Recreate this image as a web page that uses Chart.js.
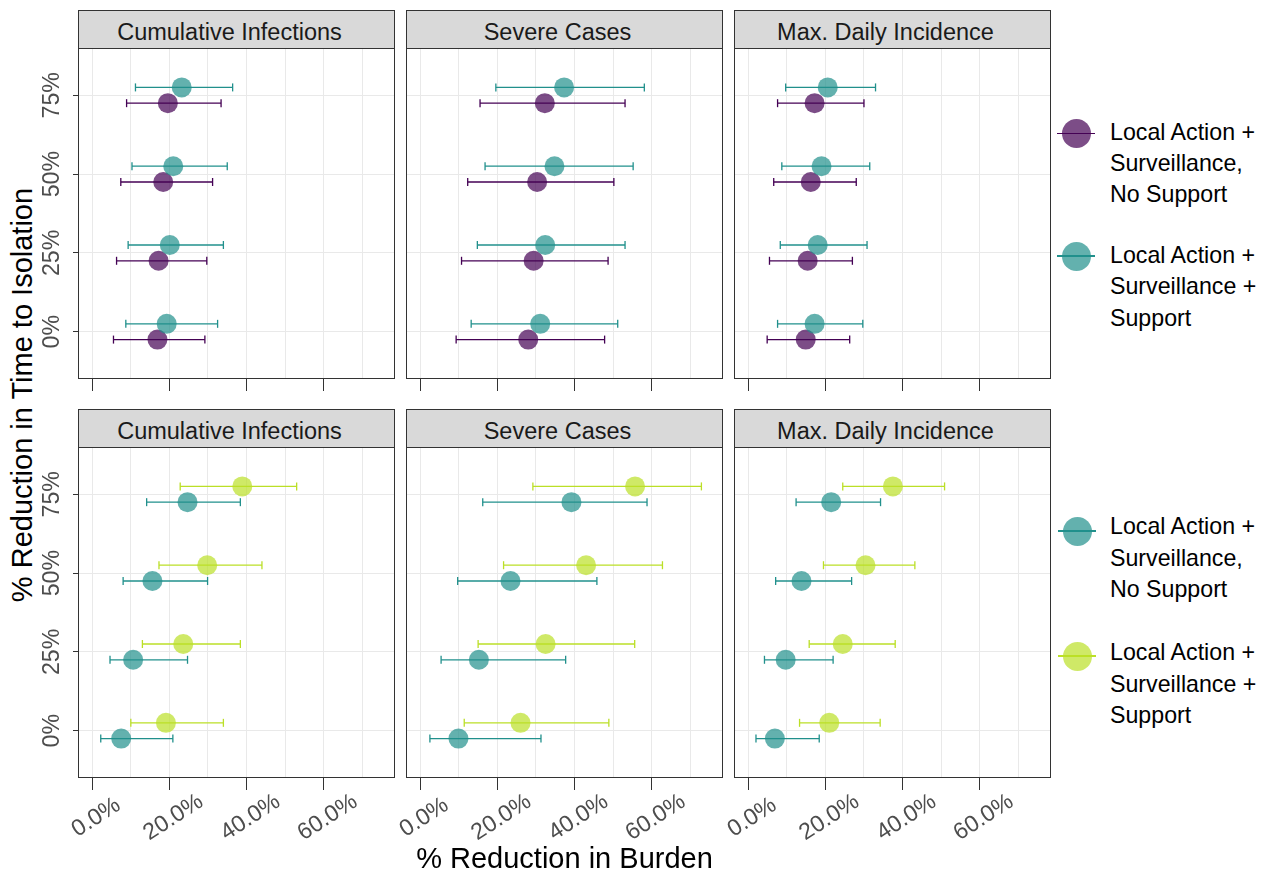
<!DOCTYPE html>
<html>
<head>
<meta charset="utf-8">
<script src="https://cdn.jsdelivr.net/npm/chart.js@4.4.1/dist/chart.umd.min.js"></script>
<style>
  html, body { margin: 0; padding: 0; background: #ffffff; }
  body { position: relative; width: 1288px; height: 873px; overflow: hidden;
         font-family: "Liberation Sans", Arial, Helvetica, sans-serif; }
  canvas { position: absolute; }
  .strip { position: absolute; box-sizing: border-box; border: 1px solid #333333;
           background: #d9d9d9; color: #1a1a1a; font-size: 23.5px; line-height: 43px;
           text-align: center; white-space: nowrap; padding-right: 14px; }
  .frame { position: absolute; box-sizing: border-box; border: 1px solid #333333; pointer-events: none; }
  .title { position: absolute; font-size: 29px; color: #000000; white-space: nowrap; line-height: 29px; }
  .keyline { position: absolute; height: 1.5px; }
  .keydot { position: absolute; border-radius: 50%; }
  .keytext { position: absolute; font-size: 23.2px; line-height: 31.3px; color: #000000; white-space: nowrap; }
</style>
</head>
<body>
<script>
// ---- categories, ticks and labels ----
const isolationLevels = ['0%', '25%', '50%', '75%'];
const xGridValues = [0, 10, 20, 30, 40, 50, 60, 70];
const xTickValues = [0, 20, 40, 60];
const panelTitles = ['Cumulative Infections', 'Severe Cases', 'Max. Daily Incidence'];
const legendLabels = ['Local Action +\nSurveillance,\nNo Support', 'Local Action +\nSurveillance +\nSupport'];

// ---- % reduction in burden: [estimate, lower, upper] per isolation level ----
// upper row
const topCumNoSupport   = [[16.9, 5.5, 29.2], [17.2, 6.3, 29.7], [18.4, 7.4, 31.2], [19.6, 8.9, 33.4]];
const topCumSupport     = [[19.3, 8.7, 32.5], [20.1, 9.3, 34.0], [21.0, 10.3, 35.0], [23.2, 11.2, 36.4]];
const topSevNoSupport   = [[28.0, 9.3, 47.8], [29.4, 10.7, 48.7], [30.3, 12.3, 50.2], [32.3, 15.5, 53.1]];
const topSevSupport     = [[31.1, 13.2, 51.2], [32.4, 14.8, 53.1], [34.8, 16.8, 55.2], [37.3, 19.6, 58.1]];
const topMaxNoSupport   = [[14.9, 4.9, 26.3], [15.4, 5.5, 27.0], [16.2, 6.6, 28.0], [17.2, 7.6, 30.0]];
const topMaxSupport     = [[17.2, 7.6, 29.7], [18.0, 8.3, 30.8], [19.0, 8.7, 31.5], [20.6, 9.7, 33.0]];
// lower row
const lowCumNoSupport   = [[7.5, 2.2, 20.9], [10.6, 4.6, 24.7], [15.6, 8.0, 29.9], [24.7, 14.1, 38.4]];
const lowCumSupport     = [[19.1, 10.0, 34.0], [23.6, 13.0, 38.4], [29.8, 17.3, 44.0], [38.9, 22.8, 53.0]];
const lowSevNoSupport   = [[9.9, 2.5, 31.3], [15.2, 5.4, 37.7], [23.4, 9.7, 45.8], [39.2, 16.2, 58.8]];
const lowSevSupport     = [[26.0, 11.4, 48.9], [32.5, 15.0, 55.6], [43.0, 21.6, 62.8], [55.7, 29.2, 72.9]];
const lowMaxNoSupport   = [[6.9, 2.0, 18.4], [9.7, 4.2, 22.0], [13.8, 7.1, 26.8], [21.5, 12.4, 34.3]];
const lowMaxSupport     = [[21.0, 13.3, 34.2], [24.5, 15.8, 38.1], [30.4, 19.5, 43.2], [37.5, 24.5, 50.9]];

// ---- palette ----
const purple = '#440154';
const teal = '#21908C';
const lime = '#BBDF27';

// ---- layout ----
const COL_LEFT = [78, 406, 734];
const ROW_TOP = [48, 447];
const PANEL_W = 317;
const PANEL_H = 331;
const STRIP_H = 39;
const AXIS_W = 40;
const DODGE = 0.1;

function rgba(hex, a) {
  const n = parseInt(hex.slice(1), 16);
  return `rgba(${(n >> 16) & 255},${(n >> 8) & 255},${n & 255},${a})`;
}

// tick labels drawn at the positions given by the chart's own scales
const facetTickLabels = {
  id: 'facetTickLabels',
  afterDraw(chart, args, opts) {
    const ctx = chart.ctx;
    const area = chart.chartArea;
    ctx.save();
    ctx.font = '23.2px "Liberation Sans", Arial, sans-serif';
    ctx.fillStyle = '#4d4d4d';
    ctx.textAlign = 'center';
    ctx.textBaseline = 'middle';
    if (opts.showY) {
      const ys = chart.scales.y;
      isolationLevels.forEach((lab, i) => {
        ctx.save();
        ctx.translate(area.left - 25, ys.getPixelForValue(i));
        ctx.rotate(-Math.PI / 2);
        ctx.fillText(lab, 0, 0);
        ctx.restore();
      });
    }
    if (opts.showX) {
      const xs = chart.scales.x;
      xTickValues.forEach(v => {
        ctx.save();
        ctx.translate(xs.getPixelForValue(v) + 4, area.bottom + 39.5);
        ctx.rotate(-33 * Math.PI / 180);
        ctx.fillText(v.toFixed(1) + '%', 0, 0);
        ctx.restore();
      });
    }
    ctx.restore();
  }
};

function pointSet(stats, offset, color, order) {
  return {
    type: 'scatter',
    data: stats.map((s, i) => ({ x: s[0], y: i + offset })),
    showLine: false,
    pointRadius: 10,
    pointBackgroundColor: rgba(color, 0.7),
    pointBorderWidth: 0,
    order: order
  };
}

function errorSets(stats, offset, color, order) {
  return stats.map((s, i) => ({
    type: 'scatter',
    data: [{ x: s[1], y: i + offset }, { x: s[2], y: i + offset }],
    showLine: true,
    borderColor: color,
    borderWidth: 1.3,
    pointStyle: 'line',
    rotation: 90,
    pointRadius: 4,
    pointBorderColor: color,
    pointBackgroundColor: color,
    pointBorderWidth: 1.3,
    order: order
  }));
}

function makePanel(row, col, noSupport, support, colorNo, colorYes) {
  const xAxisH = row === 1 ? 80 : 14;
  const left = COL_LEFT[col] - AXIS_W;
  const top = ROW_TOP[row];
  const canvas = document.createElement('canvas');
  canvas.width = AXIS_W + PANEL_W;
  canvas.height = PANEL_H + xAxisH;
  canvas.style.left = left + 'px';
  canvas.style.top = top + 'px';
  canvas.style.width = canvas.width + 'px';
  canvas.style.height = canvas.height + 'px';
  document.body.appendChild(canvas);

  const datasets = [
    pointSet(support, DODGE, colorYes, 0),
    pointSet(noSupport, -DODGE, colorNo, 1),
    ...errorSets(support, DODGE, colorYes, 2),
    ...errorSets(noSupport, -DODGE, colorNo, 3)
  ];

  new Chart(canvas, {
    type: 'scatter',
    data: { datasets },
    options: {
      responsive: false,
      animation: false,
      events: [],
      layout: { padding: 0, autoPadding: false },
      plugins: {
        legend: { display: false },
        tooltip: { enabled: false },
        facetTickLabels: { showX: row === 1, showY: col === 0 }
      },
      scales: {
        x: {
          type: 'linear', position: 'bottom', min: -3.7, max: 78.5,
          afterBuildTicks: s => { s.ticks = xGridValues.map(v => ({ value: v })); },
          afterFit: s => { s.height = xAxisH; },
          ticks: { display: false },
          border: { display: false },
          grid: {
            color: '#e9e9e9', lineWidth: 1, drawTicks: true, tickLength: 12, tickWidth: 1,
            tickColor: c => (c.tick && xTickValues.includes(c.tick.value)) ? '#333333' : 'rgba(0,0,0,0)'
          }
        },
        y: {
          type: 'linear', position: 'left', min: -0.6, max: 3.6,
          afterBuildTicks: s => { s.ticks = isolationLevels.map((_, i) => ({ value: i })); },
          afterFit: s => { s.width = AXIS_W; },
          ticks: { display: false },
          border: { display: false },
          grid: {
            color: '#e9e9e9', lineWidth: 1, drawTicks: col === 0, tickLength: 5, tickWidth: 1,
            tickColor: '#333333'
          }
        }
      }
    },
    plugins: [facetTickLabels]
  });

  const frame = document.createElement('div');
  frame.className = 'frame';
  Object.assign(frame.style, { left: COL_LEFT[col] + 'px', top: top + 'px',
    width: PANEL_W + 'px', height: PANEL_H + 'px' });
  document.body.appendChild(frame);

  const strip = document.createElement('div');
  strip.className = 'strip';
  strip.textContent = panelTitles[col];
  Object.assign(strip.style, { left: COL_LEFT[col] + 'px', top: (top - STRIP_H + 1) + 'px',
    width: PANEL_W + 'px', height: STRIP_H + 'px' });
  document.body.appendChild(strip);
}

makePanel(0, 0, topCumNoSupport, topCumSupport, purple, teal);
makePanel(0, 1, topSevNoSupport, topSevSupport, purple, teal);
makePanel(0, 2, topMaxNoSupport, topMaxSupport, purple, teal);
makePanel(1, 0, lowCumNoSupport, lowCumSupport, teal, lime);
makePanel(1, 1, lowSevNoSupport, lowSevSupport, teal, lime);
makePanel(1, 2, lowMaxNoSupport, lowMaxSupport, teal, lime);

// axis titles
const xTitle = document.createElement('div');
xTitle.className = 'title';
xTitle.textContent = '% Reduction in Burden';
Object.assign(xTitle.style, { left: '564.5px', top: '843.5px', transform: 'translateX(-50%)' });
document.body.appendChild(xTitle);

const yTitle = document.createElement('div');
yTitle.className = 'title';
yTitle.textContent = '% Reduction in Time to Isolation';
Object.assign(yTitle.style, { left: '22px', top: '395px', transform: 'translate(-50%, -50%) rotate(-90deg)' });
document.body.appendChild(yTitle);

// legends
function legendKey(cx, cy, color, textTop, label) {
  const line = document.createElement('div');
  line.className = 'keyline';
  Object.assign(line.style, { left: (cx - 19) + 'px', top: (cy - 0.75) + 'px', width: '38px', background: color });
  document.body.appendChild(line);
  const dot = document.createElement('div');
  dot.className = 'keydot';
  Object.assign(dot.style, { left: (cx - 14.5) + 'px', top: (cy - 14.5) + 'px', width: '29px', height: '29px',
    background: rgba(color, 0.7) });
  document.body.appendChild(dot);
  const txt = document.createElement('div');
  txt.className = 'keytext';
  txt.innerHTML = label.split('\n').join('<br>');
  Object.assign(txt.style, { left: '1110px', top: textTop + 'px' });
  document.body.appendChild(txt);
}
legendKey(1076, 133.3, purple, 116.6, legendLabels[0]);
legendKey(1076, 256, teal, 240, legendLabels[1]);
legendKey(1077, 531, teal, 511.3, legendLabels[0]);
legendKey(1077, 656, lime, 637.3, legendLabels[1]);
</script>
</body>
</html>
